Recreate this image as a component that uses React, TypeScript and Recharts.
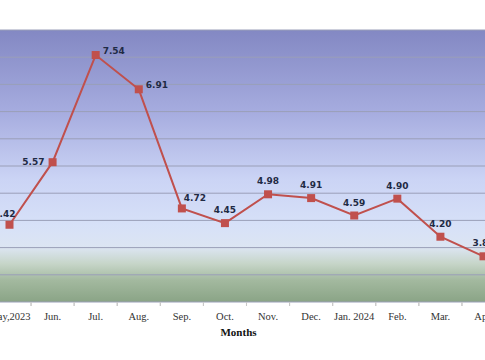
import * as React from 'react';
import { LineChart, Line, XAxis, YAxis, CartesianGrid, LabelList } from 'recharts';

const months = ['May,2023', 'Jun.', 'Jul.', 'Aug.', 'Sep.', 'Oct.', 'Nov.', 'Dec.', 'Jan. 2024', 'Feb.', 'Mar.', 'Apr.'];
const rates = [4.42, 5.57, 7.54, 6.91, 4.72, 4.45, 4.98, 4.91, 4.59, 4.90, 4.20, 3.84];
const yTicks = [3, 3.5, 4, 4.5, 5, 5.5, 6, 6.5, 7, 7.5, 8];

const data = months.map((m, i) => ({ month: m, rate: rates[i] }));

const HALF_BAND = 21.5;

function MonthTick(props: any) {
  const { x, y, payload } = props;
  return (
    <g>
      <line x1={x - HALF_BAND} y1={y - 8} x2={x - HALF_BAND} y2={y - 4} stroke="#c8c8c8" />
      <line x1={x + HALF_BAND} y1={y - 8} x2={x + HALF_BAND} y2={y - 4} stroke="#c8c8c8" />
      <text x={x} y={y + 10} textAnchor="middle" fontFamily="'Liberation Serif', serif" fontSize={10.5} fill="#333">
        {payload.value}
      </text>
    </g>
  );
}

function RateLabel(props: any) {
  const { x, y, value, index } = props;
  let tx = x, ty = y - 10, anchor: 'start' | 'middle' | 'end' = 'middle';
  if (index === 0) { tx = x + 6; ty = y - 8; anchor = 'end'; }
  else if (index === 1) { tx = x - 8; ty = y + 3; anchor = 'end'; }
  else if (index === 2 || index === 3) { tx = x + 7; ty = y - 1; anchor = 'start'; }
  else if (index === 4) { tx = x + 2; ty = y - 7; anchor = 'start'; }
  return (
    <text x={tx} y={ty} textAnchor={anchor} fontFamily="'DejaVu Sans', sans-serif" fontWeight="bold" fontSize={9} fill="#1f2a44">
      {Number(value).toFixed(2)}
    </text>
  );
}

function Marker(props: any) {
  const { cx, cy } = props;
  return <rect x={cx - 4} y={cy - 4} width={8} height={8} fill="#c0504d" />;
}

export default function App() {
  return (
    <div style={{ position: 'absolute', left: 0, top: 0, width: 485, height: 360, overflow: 'hidden', background: '#fff' }}>
      <div style={{ position: 'absolute', left: -12, top: 0 }}>
        <LineChart width={517} height={360} data={data} margin={{ top: 30, right: 0, bottom: 18, left: 0 }}>
          <defs>
            <linearGradient id="bg" x1="0" y1="0" x2="0" y2="1">
              <stop offset="0" stopColor="#8388c3" />
              <stop offset="0.3" stopColor="#a6acdf" />
              <stop offset="0.55" stopColor="#cbd4f5" />
              <stop offset="0.72" stopColor="#d7e1f8" />
              <stop offset="0.8" stopColor="#dce5f2" />
              <stop offset="0.86" stopColor="#c6d5c8" />
              <stop offset="0.92" stopColor="#a3b99f" />
              <stop offset="1" stopColor="#8aa486" />
            </linearGradient>
          </defs>
          <CartesianGrid vertical={false} fill="url(#bg)" stroke="#9a9fb8" strokeWidth={1} fillOpacity={1} />
          <XAxis
            dataKey="month"
            padding={{ left: HALF_BAND, right: HALF_BAND }}
            axisLine={false}
            tickLine={false}
            height={40}
            interval={0}
            tick={<MonthTick />}
            label={{ value: 'Months', position: 'insideBottom', offset: 6, dx: -8, fontFamily: "'Liberation Serif', serif", fontWeight: 'bold', fontSize: 11, fill: '#111' }}
          />
          <YAxis hide domain={[3, 8]} ticks={yTicks} />
          <Line
            dataKey="rate"
            stroke="#c0504d"
            strokeWidth={2}
            dot={<Marker />}
            activeDot={false}
            isAnimationActive={false}
          >
            <LabelList dataKey="rate" content={<RateLabel />} />
          </Line>
        </LineChart>
      </div>
    </div>
  );
}
